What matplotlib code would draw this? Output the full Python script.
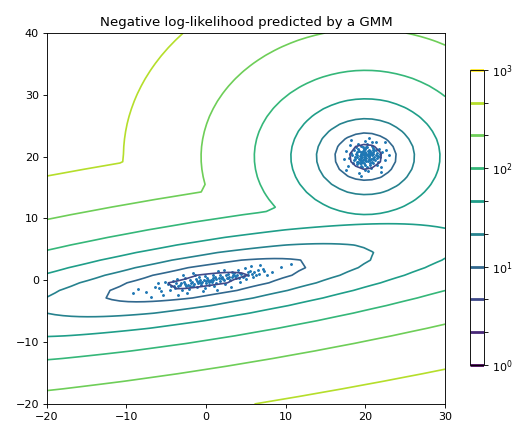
import numpy as np
import matplotlib
matplotlib.use("Agg")
import matplotlib.pyplot as plt
from matplotlib.colors import LogNorm

# GMM components (two clusters)
weights = [0.5, 0.5]
means = [[20.0, 20.0], [0.0, 0.0]]
covs = [[[1.0, 0.0], [0.0, 1.0]],
        [[12.25, 2.45], [2.45, 0.98]]]

# training points, roughly as seen in the picture
shifted_x = [20.1, 19.5, 20.8, 19.2, 20.4, 21.2, 19.8, 18.9, 20.6, 21.5, 19.1, 20.0, 20.3, 19.7, 21.0, 18.6,
             20.9, 19.4, 21.8, 18.3, 20.2, 19.9, 22.1, 17.9, 20.7, 19.6, 20.5, 19.3, 21.4, 18.8, 20.1, 19.0,
             21.7, 18.4, 20.8, 22.4, 17.6, 19.9, 20.3, 22.0, 18.1, 21.3, 17.8, 22.6, 19.2, 20.6, 19.6, 20.9,
             19.4, 20.2, 21.1, 18.7, 20.0, 19.8, 21.6, 19.0, 20.4, 19.7, 20.8, 18.5, 23.0, 17.3, 20.5, 19.5,
             22.5, 17.5, 21.9, 18.2, 20.0, 19.3, 21.0, 19.9, 20.6, 19.5, 21.3, 18.9, 20.7, 19.1, 21.8, 18.2,
             20.3, 19.6, 20.1, 19.4, 20.9, 20.5, 19.8, 20.2, 19.9, 20.7, 19.3, 20.4, 19.5, 21.0, 19.7, 20.6,
             19.0, 21.3, 20.0, 20.0, 19.6, 21.1, 18.8, 21.4, 20.3, 19.2, 20.8, 19.5, 20.1, 19.9, 20.5, 19.8,
             18.7, 21.6, 20.2, 19.4, 20.9, 19.1, 20.6, 19.7]
shifted_y = [19.8, 20.4, 20.2, 19.6, 21.1, 19.4, 18.9, 20.7, 18.7, 20.6, 21.3, 20.0, 19.3, 20.9, 21.4, 19.4,
             19.0, 18.5, 19.9, 20.3, 22.0, 17.9, 20.8, 19.8, 20.6, 19.2, 19.9, 20.1, 18.6, 21.6, 21.6, 18.8,
             21.3, 18.9, 22.3, 19.5, 20.9, 22.5, 17.6, 18.3, 21.9, 22.4, 18.5, 21.1, 17.4, 20.9, 20.6, 20.4,
             19.8, 18.4, 20.0, 20.0, 19.4, 21.2, 19.2, 20.3, 20.3, 19.5, 21.8, 21.1, 20.2, 19.6, 23.0, 16.9,
             22.3, 17.9, 17.5, 22.7, 20.7, 19.0, 19.7, 20.3, 19.5, 21.7, 21.0, 19.2, 18.2, 22.1, 20.4, 20.6,
             20.5, 19.9, 19.3, 20.7, 19.8, 20.8, 19.6, 20.2, 20.6, 19.7, 19.4, 19.6, 20.2, 20.7, 21.5, 18.9,
             20.0, 20.3, 18.7, 21.3, 18.4, 21.1, 20.5, 19.8, 20.9, 20.9, 19.2, 19.4, 20.4, 19.9, 20.1, 20.2,
             19.7, 20.1, 21.6, 18.9, 21.0, 19.2, 20.5, 20.4]
stretched_x = [-0.5, 0.8, -1.6, 2.1, -2.8, 3.4, -3.9, 4.6, 1.2, -0.9, 0.3, 2.7, -2.2, 5.3, -4.8, 1.7,
               -1.2, 3.0, -3.3, 0.1, 6.2, -5.7, 4.0, -2.6, 2.4, -0.2, 1.5, -1.9, 3.8, -4.2, 7.1, -6.4,
               0.6, -0.7, 2.9, -3.0, 5.0, -5.1, 1.0, -1.4, 8.3, -7.5, 4.3, -3.6, 6.8, -2.4, 0.4, -0.1,
               1.9, -1.1, 3.5, -4.5, 5.8, -6.0, 2.2, -2.0, 9.4, -8.6, 0.9, -0.4, 4.9, -3.5, 7.6, -5.4,
               1.4, -1.7, 10.6, -9.2, 3.1, -2.9, 6.5, -6.9, 0.0, 0.7, -0.8, 2.5, -2.5, 4.1, -4.0, 5.6,
               -3.5, -2.7, -1.8, -1.0, -0.3, 0.5, 1.3, 2.0, 2.8, 3.6, 4.4, 5.2, 6.0, -3.1, -2.3, -1.5,
               -0.6, 0.2, 1.1, 1.8, 2.6, 3.3, 4.2, 5.5, 6.6, -4.4, -0.9, 0.8, 2.3, 3.9, -2.0, 0.0,
               1.6, 3.2, 4.7, -1.3, -3.8, 5.9, 7.3, -5.9]
stretched_y = [-0.3, 0.4, -0.9, 0.2, -0.2, 0.9, -1.2, 0.6, -0.4, 0.5, -0.8, 1.1, -1.4, 1.4, -0.6, 0.9,
               -0.1, 0.0, -0.8, 0.3, 0.8, -1.7, 1.6, 0.4, -0.6, -1.3, 1.5, -0.5, 0.3, -0.1, 1.9, -1.1,
               0.1, -0.7, 0.6, -1.6, 0.2, -0.3, -1.0, 0.8, 1.3, -1.9, -0.2, 0.2, 2.4, -2.1, -0.2, 0.7,
               0.3, -1.1, 1.2, -1.5, 1.1, -0.5, 1.7, 0.0, 2.1, -1.4, 0.8, -1.8, 2.0, -2.3, 0.9, -2.4,
               -1.6, 1.2, 2.6, -2.0, -1.1, 0.9, 1.7, -2.7, -0.5, -0.3, 0.0, 0.8, -1.0, 0.4, -0.9, 2.3,
               -0.9, -0.6, -0.3, -0.4, 0.0, -0.1, 0.2, 0.6, 0.4, 0.7, 1.0, 0.9, 1.3, -0.4, -0.8, -0.6,
               -0.5, 0.1, 0.5, -0.1, 0.3, 0.5, 1.2, 1.5, 1.0, -1.0, -0.2, 0.0, 0.1, 0.8, -0.9, -0.1,
               0.4, 1.3, 0.7, 0.2, -0.4, 0.5, 1.5, -1.2]

pts_x = np.array(shifted_x + stretched_x)
pts_y = np.array(shifted_y + stretched_y)

# negative log-likelihood of the mixture on a coarse grid
x = np.linspace(-20.0, 30.0)
y = np.linspace(-20.0, 40.0)
X, Y = np.meshgrid(x, y)
XX = np.column_stack([X.ravel(), Y.ravel()])
dens = np.zeros(len(XX))
for w, m, c in zip(weights, means, covs):
    c = np.array(c)
    d = XX - np.array(m)
    inv = np.linalg.inv(c)
    q = np.einsum("ij,jk,ik->i", d, inv, d)
    dens += w * np.exp(-0.5 * q) / (2 * np.pi * np.sqrt(np.linalg.det(c)))
Z = -np.log(dens).reshape(X.shape)

fig = plt.figure(figsize=(6.5, 5.2875), dpi=80)
ax = fig.add_axes([0.090, 0.045, 0.766, 0.877])
cax = fig.add_axes([0.904, 0.137, 0.027, 0.698])

CS = ax.contour(X, Y, Z, norm=LogNorm(vmin=1.0, vmax=1000.0), levels=np.logspace(0, 3, 10))
CB = fig.colorbar(CS, cax=cax)
for ln in CB.lines:
    ln.set_linewidth(2.5)
ax.scatter(pts_x, pts_y, 2.5)
ax.set_title("Negative log-likelihood predicted by a GMM")
ax.set_xlim(-20, 30)
ax.set_ylim(-20, 40)

fig.savefig("out.png", dpi=80)
plt.close(fig)
